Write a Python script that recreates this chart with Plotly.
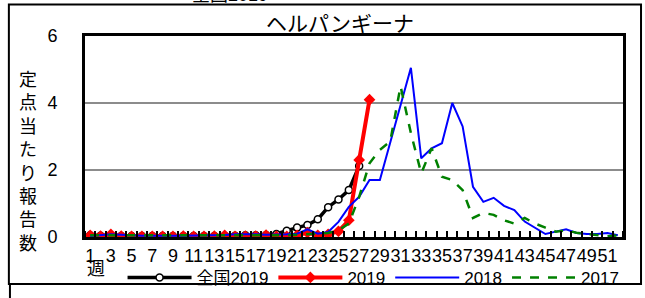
import plotly.graph_objects as go

weeks = list(range(1, 53))
tick_labels = [str(w) for w in range(1, 52, 2)]

nat2019 = [0.05, 0.04, 0.04, 0.03, 0.03, 0.03, 0.03, 0.03, 0.03, 0.03,
           0.03, 0.03, 0.03, 0.04, 0.04, 0.05, 0.05, 0.06, 0.09, 0.19,
           0.28, 0.36, 0.53, 0.89, 1.12, 1.40, 2.12]
pref2019 = [0.05, 0.03, 0.08, 0.03, 0.02, 0.02, 0.02, 0.02, 0.02, 0.03,
            0.02, 0.02, 0.03, 0.05, 0.02, 0.03, 0.03, 0.06, 0.02, 0.02,
            0.05, 0.13, 0.05, 0.08, 0.17, 0.50, 2.30, 4.10]
pref2018 = [0.03, 0.05, 0.08, 0.07, 0.05, 0.04, 0.04, 0.03, 0.04, 0.04,
            0.04, 0.04, 0.05, 0.06, 0.08, 0.09, 0.08, 0.07, 0.07, 0.08,
            0.10, 0.23, 0.10, 0.15, 0.45, 0.90, 1.20, 1.70, 1.70, 2.80,
            3.90, 5.05, 2.35, 2.65, 2.80, 4.00, 3.30, 1.50, 1.05, 1.17,
            0.93, 0.80, 0.46, 0.27, 0.09, 0.16, 0.23, 0.12, 0.09, 0.09,
            0.12, 0.05]
pref2017 = [0.05, 0.05, 0.06, 0.05, 0.05, 0.04, 0.04, 0.05, 0.05, 0.04,
            0.04, 0.05, 0.05, 0.04, 0.05, 0.06, 0.06, 0.05, 0.05, 0.05,
            0.07, 0.08, 0.10, 0.12, 0.20, 0.40, 1.20, 2.20, 2.60, 2.85,
            4.50, 3.10, 1.90, 2.65, 1.80, 1.70, 1.40, 0.57, 0.72, 0.66,
            0.50, 0.40, 0.57, 0.40, 0.28, 0.16, 0.20, 0.13, 0.09, 0.05,
            0.02, 0.05]

FONT = "Liberation Sans, Noto Sans CJK JP"
JP = "Noto Sans CJK JP"

fig = go.Figure()
fig.add_trace(go.Scatter(
    x=weeks[:len(nat2019)], y=nat2019, name="全国2019", mode="lines+markers",
    line=dict(color="black", width=3.5),
    marker=dict(symbol="circle", size=7, color="white", line=dict(color="black", width=1.5))))
fig.add_trace(go.Scatter(
    x=weeks[:len(pref2019)], y=pref2019, name="2019", mode="lines+markers",
    line=dict(color="#ff0000", width=4),
    marker=dict(symbol="diamond", size=9, color="#ff0000")))
fig.add_trace(go.Scatter(
    x=weeks, y=pref2018, name="2018", mode="lines",
    line=dict(color="#0000ff", width=2)))
fig.add_trace(go.Scatter(
    x=weeks, y=pref2017, name="2017", mode="lines",
    line=dict(color="#008000", width=2.5, dash="dash")))

fig.update_layout(
    width=645, height=298,
    margin=dict(l=85, r=22, t=36, b=61),
    paper_bgcolor="white", plot_bgcolor="white",
    font=dict(family=FONT, size=17, color="black"),
    showlegend=True,
    legend=dict(orientation="h", xref="container", yref="container",
                x=0.19, xanchor="left", y=0.128, yanchor="top",
                font=dict(family=FONT, size=17), itemwidth=64,
                bgcolor="rgba(0,0,0,0)", tracegroupgap=0),
    xaxis=dict(type="linear", range=[0.5, 52.5], tickangle=0, automargin=False,
               tickmode="array", tickvals=list(range(1, 52, 2)), ticktext=tick_labels,
               ticks="", showgrid=False, zeroline=False,
               showline=True, linecolor="black", linewidth=3, mirror=True,
               tickfont=dict(family=FONT, size=18), ticklabelstandoff=0,
               minor=dict(tickmode="linear", tick0=0.5, dtick=1, ticks="inside",
                          ticklen=6, tickwidth=2, tickcolor="black", showgrid=False)),
    yaxis=dict(range=[0, 6], tickvals=[0, 2, 4, 6], ticks="", showgrid=True, automargin=False,
               gridcolor="#8c8c8c", gridwidth=2, zeroline=False,
               showline=True, linecolor="black", linewidth=3, mirror=True,
               tickfont=dict(family=FONT, size=18), ticklabelstandoff=21),
)

# chart title
fig.add_annotation(text="ヘルパンギーナ", xref="paper", yref="paper",
                   x=0.474, y=1.07, xanchor="center", yanchor="middle", showarrow=False,
                   font=dict(family=JP, size=21))
# y-axis title, stacked vertically
fig.add_annotation(text="<br>".join("定点当たり報告数"), xref="paper", yref="paper",
                   x=-0.106, y=0.383, xanchor="center", yanchor="middle", showarrow=False,
                   font=dict(family=JP, size=18), align="center")
# week label
fig.add_annotation(text="週", xref="paper", yref="paper", x=0.0, y=-0.15,
                   xanchor="left", yanchor="middle", showarrow=False,
                   font=dict(family=JP, size=18))
# outer frame
fig.add_shape(type="rect", xref="paper", yref="paper",
              x0=-0.1415, x1=1.0335, y0=-0.2334, y1=1.1567,
              line=dict(color="black", width=2))
fig.add_shape(type="line", xref="paper", yref="paper",
              x0=-0.1395, x1=-0.1395, y0=-0.2334, y1=-0.31,
              line=dict(color="black", width=2))
fig.add_annotation(text="全国2019", xref="paper", yref="paper", x=0.27, y=1.205,
                   xanchor="center", yanchor="middle", showarrow=False,
                   font=dict(family=FONT, size=18))

fig.write_html("out.html", config={"displayModeBar": False},
               post_script="document.body.style.margin='0px';")
